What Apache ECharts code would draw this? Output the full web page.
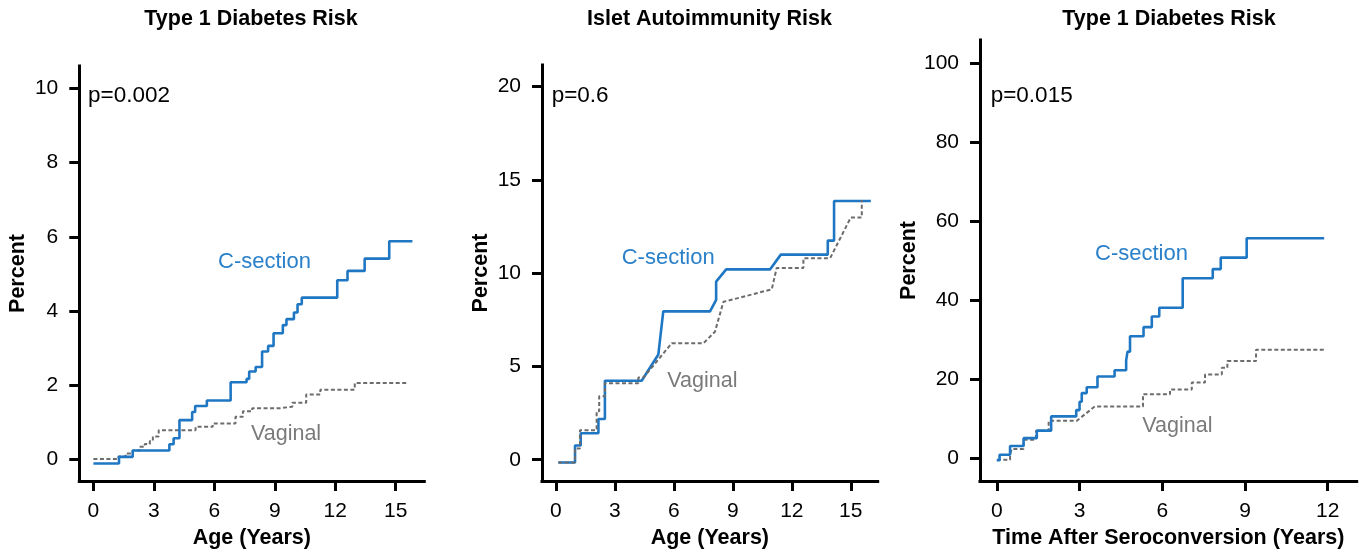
<!DOCTYPE html>
<html>
<head>
<meta charset="utf-8">
<script src="https://cdn.jsdelivr.net/npm/echarts@6/dist/echarts.min.js"></script>
<style>
html,body{margin:0;padding:0;background:#fff;}
#c{width:1362px;height:554px;}
</style>
</head>
<body>
<div id="c"></div>
<script>
// ---------- Data ----------
const titles = ['Type 1 Diabetes Risk', 'Islet Autoimmunity Risk', 'Type 1 Diabetes Risk'];
const xNames = ['Age (Years)', 'Age (Years)', 'Time After Seroconversion (Years)'];
const yName = 'Percent';
const pTexts = ['p=0.002', 'p=0.6', 'p=0.015'];
const groupNames = ['C-section', 'Vaginal'];

const xTicks1 = [0, 3, 6, 9, 12, 15];
const yTicks1 = [0, 2, 4, 6, 8, 10];
const xTicks2 = [0, 3, 6, 9, 12, 15];
const yTicks2 = [0, 5, 10, 15, 20];
const xTicks3 = [0, 3, 6, 9, 12];
const yTicks3 = [0, 20, 40, 60, 80, 100];

// Panel 1 (step curves: event times and cumulative percent)
const p1CsecT = [0, 1.27, 1.95, 3.77, 3.98, 4.27, 4.90, 5.05, 5.63, 6.81, 7.60, 7.73, 8.05, 8.37, 8.67, 8.94, 9.40, 9.58, 9.95, 10.13, 10.34, 12.10, 12.61, 13.46, 14.68, 15.83];
const p1CsecV = [-0.11, 0.07, 0.24, 0.41, 0.57, 1.06, 1.28, 1.44, 1.59, 2.08, 2.17, 2.37, 2.49, 2.91, 3.06, 3.40, 3.62, 3.78, 3.96, 4.18, 4.36, 4.83, 5.08, 5.41, 5.88, 5.88];
const p1VagT = [0, 1.24, 1.60, 1.95, 2.28, 2.55, 2.80, 2.95, 3.24, 5.07, 5.92, 7.05, 7.42, 7.88, 9.24, 9.87, 10.56, 11.26, 12.97, 15.61];
const p1VagV = [0.01, 0.08, 0.16, 0.24, 0.34, 0.42, 0.50, 0.62, 0.79, 0.88, 0.97, 1.15, 1.30, 1.38, 1.42, 1.53, 1.75, 1.88, 2.06, 2.06];

// Panel 2 (polyline vertices)
const p2CsecX = [0.12, 0.97, 0.97, 1.26, 1.26, 2.16, 2.16, 2.49, 2.49, 4.36, 5.21, 5.46, 7.84, 8.15, 8.15, 8.66, 10.90, 11.44, 13.83, 13.83, 14.15, 14.15, 16.02];
const p2CsecY = [-0.15, -0.15, 0.76, 0.76, 1.42, 1.42, 2.18, 2.18, 4.23, 4.23, 5.64, 7.95, 7.95, 8.56, 9.54, 10.20, 10.20, 10.99, 10.99, 11.74, 11.74, 13.86, 13.86];
const p2VagX = [0.12, 0.97, 0.97, 1.22, 1.22, 2.07, 2.07, 2.20, 2.20, 2.49, 2.49, 4.19, 4.19, 4.45, 5.89, 7.50, 8.09, 8.52, 10.98, 11.23, 12.59, 12.59, 13.95, 15.00, 15.56, 15.56];
const p2VagY = [-0.15, -0.15, 0.60, 0.60, 1.58, 1.58, 2.60, 2.60, 3.40, 3.40, 4.10, 4.10, 4.40, 4.40, 6.24, 6.24, 6.86, 8.46, 9.13, 10.27, 10.27, 10.80, 10.80, 12.98, 12.98, 13.92];

// Panel 3
const p3CsecT = [0, 0.10, 0.48, 0.97, 1.45, 1.97, 2.88, 3.00, 3.08, 3.26, 3.65, 4.27, 4.69, 4.74, 4.83, 5.32, 5.62, 5.89, 6.74, 7.83, 8.12, 9.06, 11.87];
const p3CsecV = [-0.5, 0.9, 3.1, 5.1, 7.0, 10.6, 12.2, 14.3, 16.5, 18.0, 20.7, 22.3, 24.8, 27.0, 30.9, 33.2, 35.9, 38.1, 45.6, 47.9, 50.8, 55.7, 55.7];
const p3VagX = [0, 0.48, 0.48, 0.54, 0.54, 0.97, 0.97, 1.42, 1.42, 1.88, 1.88, 2.90, 3.55, 5.30, 5.30, 6.28, 6.28, 7.07, 7.07, 7.55, 7.55, 8.16, 8.16, 8.36, 8.36, 9.40, 9.40, 11.90];
const p3VagY = [-0.4, -0.4, 1.0, 1.0, 2.35, 2.35, 4.7, 4.7, 7.0, 7.0, 9.5, 9.5, 13.1, 13.1, 16.2, 16.2, 17.4, 17.4, 19.2, 19.2, 21.2, 21.2, 22.9, 22.9, 24.6, 24.6, 27.5, 27.5];

// ---------- Styling / layout ----------
const FONT = '"Liberation Sans", Arial, Helvetica, sans-serif';
const BLUE = '#1f77c3';
const BLUE_TXT = '#2a80c9';
const GRAY = '#6c6c6c';
const GRAY_TXT = '#7a7a7a';

const zip = (a, b) => a.map((v, i) => [v, b[i]]);

const grids = [
  {left: 79.3, top: 66, width: 345, height: 418},
  {left: 542, top: 65, width: 335.7, height: 419},
  {left: 980, top: 40, width: 376.7, height: 443}
];
const xRanges = [[-0.70, 16.42], [-0.71, 16.37], [-0.61, 13.05]];
const yRanges = [[-0.58, 10.6], [-1.14, 21.15], [-5.75, 105.9]];
const xTickSets = [xTicks1, xTicks2, xTicks3];
const yTickSets = [yTicks1, yTicks2, yTicks3];

const axisLine = {show: true, onZero: false, lineStyle: {color: '#000', width: 3, cap: 'square'}};
const axisTick = (vals) => ({show: true, length: 10, lineStyle: {color: '#000', width: 3}, customValues: vals});

const xAxes = grids.map((g, i) => ({
  type: 'value', gridIndex: i, min: xRanges[i][0], max: xRanges[i][1],
  axisLine, axisTick: axisTick(xTickSets[i]),
  axisLabel: {customValues: xTickSets[i], fontSize: 21, color: '#000', fontFamily: FONT, margin: 20},
  splitLine: {show: false},
  name: xNames[i], nameLocation: 'middle', nameGap: 46,
  nameTextStyle: {fontSize: 21.5, fontWeight: 'bold', color: '#000', fontFamily: FONT}
}));
const yAxes = grids.map((g, i) => ({
  type: 'value', gridIndex: i, min: yRanges[i][0], max: yRanges[i][1],
  axisLine, axisTick: axisTick(yTickSets[i]),
  axisLabel: {customValues: yTickSets[i], fontSize: 21, color: '#000', fontFamily: FONT, margin: 21},
  splitLine: {show: false},
  name: yName, nameLocation: 'middle', nameGap: 50,
  nameTextStyle: {fontSize: 21.5, fontWeight: 'bold', color: '#000', fontFamily: FONT}
}));

const blueLine = {color: BLUE, width: 2.6};
const grayLine = {color: GRAY, width: 2, type: [4, 2.5]};

const series = [
  {type: 'line', xAxisIndex: 0, yAxisIndex: 0, step: 'end', data: zip(p1VagT, p1VagV), lineStyle: grayLine},
  {type: 'line', xAxisIndex: 0, yAxisIndex: 0, step: 'end', data: zip(p1CsecT, p1CsecV), lineStyle: blueLine},
  {type: 'line', xAxisIndex: 1, yAxisIndex: 1, data: zip(p2CsecX, p2CsecY), lineStyle: blueLine},
  {type: 'line', xAxisIndex: 1, yAxisIndex: 1, data: zip(p2VagX, p2VagY), lineStyle: grayLine},
  {type: 'line', xAxisIndex: 2, yAxisIndex: 2, data: zip(p3VagX, p3VagY), lineStyle: grayLine},
  {type: 'line', xAxisIndex: 2, yAxisIndex: 2, step: 'end', data: zip(p3CsecT, p3CsecV), lineStyle: blueLine}
].map(s => Object.assign({showSymbol: false, symbol: 'none', silent: true, animation: false, z: 3}, s));

function txt(x, y, text, size, color, weight, align) {
  return {type: 'text', x, y, silent: true, style: {text, fontSize: size, fill: color, fontFamily: FONT,
    fontWeight: weight || 'normal', textAlign: align || 'left', textVerticalAlign: 'middle'}};
}

const titleX = [251, 709.5, 1169];
const pPos = [[88, 96], [551.7, 96], [990.7, 96]];
const csecPos = [[218, 262], [621.7, 258], [1095, 254]];
const vagPos = [[251, 434], [667.3, 381], [1142.3, 426]];

const graphic = [];
for (let i = 0; i < 3; i++) {
  graphic.push(txt(titleX[i], 19.5, titles[i], 21.5, '#000', 'bold', 'center'));
  graphic.push(txt(pPos[i][0], pPos[i][1], pTexts[i], 22.5, '#000'));
  graphic.push(txt(csecPos[i][0], csecPos[i][1], groupNames[0], 22, BLUE_TXT));
  graphic.push(txt(vagPos[i][0], vagPos[i][1], groupNames[1], 21.5, GRAY_TXT));
}

const chart = echarts.init(document.getElementById('c'), null, {renderer: 'canvas'});
chart.setOption({
  animation: false,
  backgroundColor: '#fff',
  grid: grids,
  xAxis: xAxes,
  yAxis: yAxes,
  series,
  graphic
});
</script>
</body>
</html>
